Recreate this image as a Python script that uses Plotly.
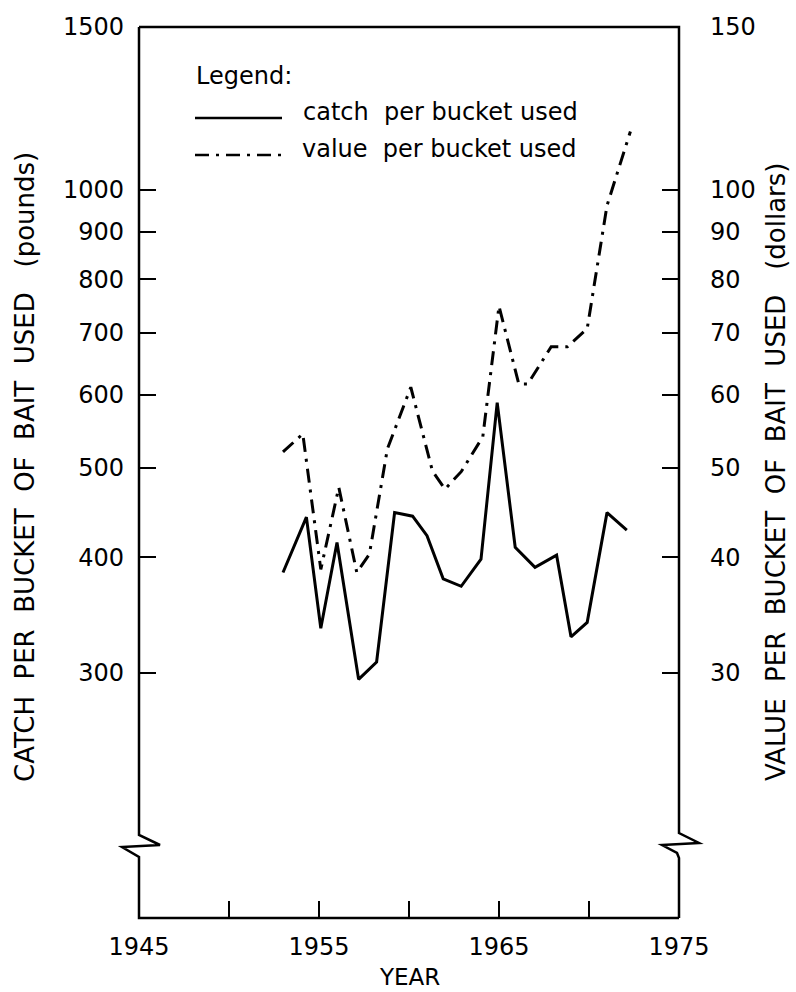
import math
import plotly.graph_objects as go

# ---------------- data ----------------
catch_years = [1953.0, 1954.3, 1955.1, 1956.0, 1957.2, 1958.2, 1959.2, 1960.2, 1961.0, 1961.9,
               1962.9, 1964.0, 1964.9, 1965.9, 1967.0, 1968.2, 1969.0, 1969.9, 1971.0, 1972.1]
catch_lbs = [385, 442, 335, 415, 295, 308, 447, 443, 422, 379,
             372, 398, 588, 410, 390, 402, 328, 340, 447, 428]

value_years = [1953.0, 1954.1, 1955.1, 1956.1, 1957.1, 1957.8, 1958.8, 1960.1, 1961.3, 1962.0,
               1962.9, 1964.1, 1965.0, 1966.1, 1966.6, 1967.9, 1968.8, 1969.9, 1971.0, 1972.3]
value_usd = [52.0, 54.4, 38.8, 47.6, 38.5, 40.3, 52.4, 61.1, 49.6, 47.4,
             49.5, 54.0, 74.8, 61.6, 61.6, 67.6, 67.6, 70.7, 96.1, 115.6]

x_tickvals = [1945, 1950, 1955, 1960, 1965, 1970, 1975]
x_ticktext = ["1945", "", "1955", "", "1965", "", "1975"]

left_tickvals = [300, 400, 500, 600, 700, 800, 900, 1000, 1500]
left_ticktext = ["300", "400", "500", "600", "700", "800", "900", "1000", "1500"]
right_tickvals = [30, 40, 50, 60, 70, 80, 90, 100, 150]
right_ticktext = ["30", "40", "50", "60", "70", "80", "90", "100", "150"]

left_range = [162.7, 1500]
right_range = [16.27, 150]

GAP = " \u00a0"
legend_title = "Legend:"
legend_catch = "catch \u00a0per bucket used"
legend_value = "value \u00a0per bucket used"
x_title = "YEAR"
left_title = GAP.join(["CATCH", "PER", "BUCKET", "OF", "BAIT", "USED"]) + GAP + "\u00a0(pounds)"
right_title = GAP.join(["VALUE", "PER", "BUCKET", "OF", "BAIT", "USED"]) + GAP + "\u00a0(dollars)"

# ---------------- geometry / style ----------------
W, H = 796, 992
PL, PR, PT, PB = 139, 679, 27, 918   # plot area in pixels
FONT = "DejaVu Sans"
DASHDOT = "14px,7px,3px,7px"


def px(xp):
    return (xp - PL) / (PR - PL)


def py(yp):
    return (PB - yp) / (PB - PT)


fig = go.Figure()
fig.add_trace(go.Scatter(x=catch_years, y=catch_lbs, mode="lines",
                         line=dict(color="black", width=3), yaxis="y",
                         name="catch per bucket used", showlegend=False))
fig.add_trace(go.Scatter(x=value_years, y=value_usd, mode="lines",
                         line=dict(color="black", width=3, dash=DASHDOT), yaxis="y2",
                         name="value per bucket used", showlegend=False))

tick_font = dict(family=FONT, size=24, color="black")
common = dict(showgrid=False, zeroline=False, showline=False, ticks="inside",
              ticklen=17, tickwidth=2, tickcolor="black", tickfont=tick_font)

fig.update_layout(
    width=W, height=H, autosize=False,
    margin=dict(l=PL, r=W - PR, t=PT, b=H - PB, pad=0),
    paper_bgcolor="white", plot_bgcolor="white",
    showlegend=False,
    xaxis=dict(range=[1945, 1975], tickmode="array", tickvals=x_tickvals,
               ticktext=x_ticktext, ticklabelstandoff=12, **common),
    yaxis=dict(type="log", range=[math.log10(v) for v in left_range], tickmode="array",
               tickvals=left_tickvals, ticktext=left_ticktext, ticklabelstandoff=14, **common),
    yaxis2=dict(type="log", range=[math.log10(v) for v in right_range], tickmode="array",
                tickvals=right_tickvals, ticktext=right_ticktext, overlaying="y", side="right",
                ticklabelstandoff=30, **common),
)

# frame with axis-break zigzags
left_path = "M {},{} L {},{} L {},{} L {},{} L {},{} L {},{} L {},{}".format(
    px(PL), py(PT), px(PL), py(835), px(160), py(845), px(122), py(847),
    px(PL), py(857), px(PL), py(PB), px(PR), py(PB))
right_path = "M {},{} L {},{} L {},{} L {},{} L {},{} L {},{} L {},{}".format(
    px(PL), py(PT), px(PR), py(PT), px(PR), py(833), px(699), py(843), px(662), py(845),
    px(677), py(853), px(PR), py(858))
right_path += " L {},{}".format(px(PR), py(PB))

shapes = [
    dict(type="path", xref="paper", yref="paper", path=left_path,
         line=dict(color="black", width=2.5), layer="above"),
    dict(type="path", xref="paper", yref="paper", path=right_path,
         line=dict(color="black", width=2.5), layer="above"),
    # legend samples
    dict(type="line", xref="paper", yref="paper", x0=px(195), x1=px(282), y0=py(118), y1=py(118),
         line=dict(color="black", width=2.5)),
    dict(type="line", xref="paper", yref="paper", x0=px(195), x1=px(288), y0=py(155), y1=py(155),
         line=dict(color="black", width=2.5, dash=DASHDOT)),
]
fig.update_layout(shapes=shapes)

txt = dict(family=FONT, size=24, color="black")
title_font = dict(family=FONT, size=26, color="black")
annotations = [
    dict(text=legend_title, x=px(194), y=py(76), xref="paper", yref="paper",
         xanchor="left", yanchor="middle", showarrow=False, font=txt),
    dict(text=legend_catch, x=px(301), y=py(112), xref="paper", yref="paper",
         xanchor="left", yanchor="middle", showarrow=False, font=txt),
    dict(text=legend_value, x=px(300), y=py(149), xref="paper", yref="paper",
         xanchor="left", yanchor="middle", showarrow=False, font=txt),
    dict(text=x_title, x=px(409), y=py(977), xref="paper", yref="paper",
         xanchor="center", yanchor="middle", showarrow=False,
         font=dict(family=FONT, size=23, color="black")),
    dict(text=left_title, x=px(25), y=py(467), xref="paper", yref="paper", textangle=-90,
         xanchor="center", yanchor="middle", showarrow=False, font=title_font),
    dict(text=right_title, x=px(776), y=py(472), xref="paper", yref="paper", textangle=-90,
         xanchor="center", yanchor="middle", showarrow=False, font=title_font),
]
fig.update_layout(annotations=annotations)

fig.write_html("out.html")
